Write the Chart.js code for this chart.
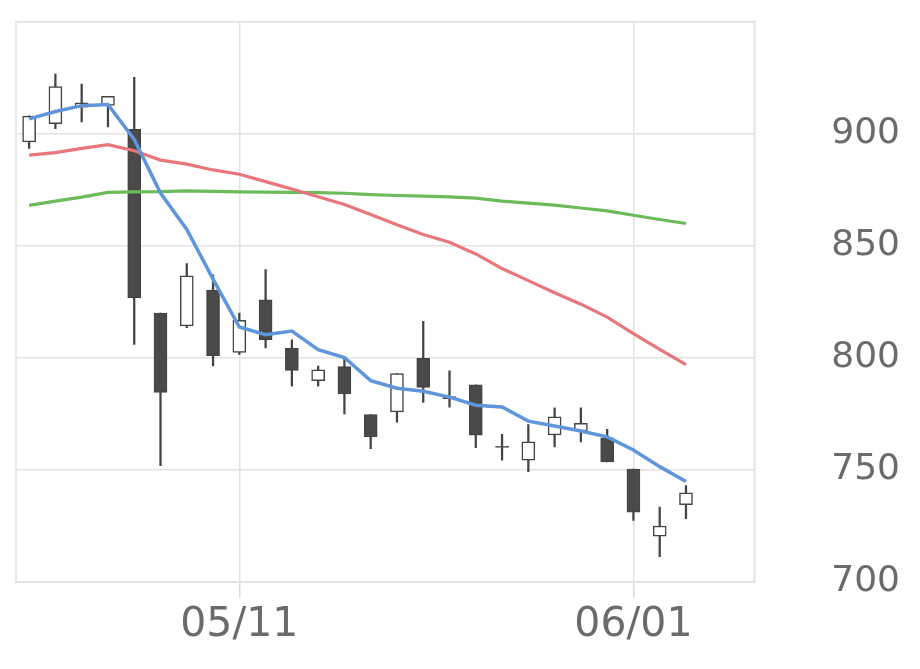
<!DOCTYPE html>
<html>
<head>
<meta charset="utf-8">
<script src="https://cdn.jsdelivr.net/npm/chart.js@4.4.0/dist/chart.umd.min.js"></script>
<style>
  html, body { margin: 0; padding: 0; background: #ffffff; }
  #wrap { width: 920px; height: 669px; }
</style>
</head>
<body>
<div id="wrap"><canvas id="chart"></canvas></div>
<script>
// Trading days (category positions)
const dates = ['04/23', '04/24', '04/27', '04/28', '04/30', '05/01', '05/07', '05/08', '05/11', '05/12',
               '05/13', '05/14', '05/15', '05/18', '05/19', '05/20', '05/21', '05/22', '05/25', '05/26',
               '05/27', '05/28', '05/29', '06/01', '06/02', '06/03'];
const xTickLabels = ['05/11', '06/01'];
const yTicks = [700, 750, 800, 850, 900];

// OHLC
const open  = [896.3, 904.4, 911.8, 912.6, 901.9, 819.9, 814.2, 830.2, 802.4, 825.8,
               804.3, 789.8, 796.0, 774.6, 775.8, 799.7, 782.7, 787.9, 760.5, 754.3,
               765.5, 767.3, 764.3, 750.3, 720.4, 734.4];
const high  = [908.0, 926.6, 922.1, 916.7, 925.1, 819.9, 842.0, 837.0, 819.9, 839.3,
               808.0, 796.3, 799.3, 774.6, 792.9, 816.2, 794.1, 787.9, 765.8, 770.2,
               777.6, 777.6, 768.0, 750.3, 733.3, 742.9];
const low   = [893.4, 902.2, 905.2, 903.0, 805.9, 751.8, 813.4, 796.3, 801.5, 804.4,
               787.3, 787.3, 774.9, 759.4, 771.2, 780.0, 777.9, 759.9, 754.3, 749.2,
               760.2, 762.4, 753.5, 727.4, 711.2, 728.2];
const close = [907.8, 921.0, 913.7, 916.7, 826.7, 784.5, 836.6, 800.9, 816.7, 808.1,
               794.3, 794.6, 783.8, 764.6, 792.9, 786.7, 781.7, 765.4, 760.0, 762.5,
               773.6, 770.7, 753.5, 731.1, 724.9, 739.7];

// Moving averages
const maShort = [906.6, 909.9, 912.5, 913.0, 897.4, 873.5, 857.2, 835.1, 813.7, 810.3,
                 811.9, 803.6, 800.1, 789.8, 786.4, 785.0, 782.4, 778.8, 778.0, 771.7,
                 769.5, 767.3, 764.7, 758.8, 751.4, 744.8];
const maMid   = [890.4, 891.5, 893.4, 895.1, 892.4, 888.2, 886.4, 883.8, 881.9, 878.6,
                 875.3, 871.8, 868.4, 863.9, 859.3, 855.0, 851.5, 846.3, 839.8, 834.4,
                 829.0, 823.9, 818.1, 810.8, 803.7, 796.9];
const maLong  = [868.0, 869.9, 871.7, 873.8, 874.0, 874.1, 874.5, 874.2, 874.0, 873.9,
                 873.8, 873.7, 873.4, 872.8, 872.4, 872.1, 871.8, 871.2, 869.9, 869.0,
                 868.1, 866.8, 865.5, 863.6, 861.7, 859.9];

const candleDark = '#4a4a4a';
const isUp = close.map((c, i) => c >= open[i]);

const wickData = dates.map((d, i) => ({ x: i, y: [low[i], high[i]] }));
const bodyData = dates.map((d, i) => ({ x: i, y: [Math.min(open[i], close[i]), Math.max(open[i], close[i])] }));
const lineData = arr => arr.map((v, i) => ({ x: i, y: v }));

// Frame round the plot area
const frame = {
    id: 'frame',
    beforeDatasetsDraw(chart) {
        const a = chart.chartArea;
        const ctx = chart.ctx;
        ctx.save();
        ctx.strokeStyle = '#e2e2e2';
        ctx.lineWidth = 1.5;
        ctx.strokeRect(a.left, a.top, a.right - a.left, a.bottom - a.top);
        ctx.restore();
    }
};

new Chart(document.getElementById('chart'), {
    type: 'bar',
    data: {
        datasets: [
            {
                type: 'line', data: lineData(maShort), borderColor: '#5f95da',
                borderWidth: 3.5, pointRadius: 0, tension: 0, order: 0
            },
            {
                type: 'line', data: lineData(maMid), borderColor: '#e8767a',
                borderWidth: 3.2, pointRadius: 0, tension: 0, order: 0
            },
            {
                type: 'line', data: lineData(maLong), borderColor: '#6cbb5a',
                borderWidth: 3.2, pointRadius: 0, tension: 0, order: 0
            },
            {
                data: bodyData,
                backgroundColor: isUp.map(u => u ? '#ffffff' : candleDark),
                borderColor: '#444444',
                borderWidth: 1.5,
                borderSkipped: false,
                barThickness: 13,
                grouped: false,
                order: 1
            },
            {
                data: wickData,
                backgroundColor: '#444444',
                borderWidth: 0,
                barThickness: 1.6,
                grouped: false,
                order: 2
            }
        ]
    },
    plugins: [frame],
    options: {
        responsive: true,
        maintainAspectRatio: false,
        animation: false,
        layout: { padding: { left: 16, top: 16, right: 20, bottom: 16 } },
        plugins: {
            legend: { display: false },
            tooltip: { enabled: false }
        },
        scales: {
            x: {
                type: 'linear',
                min: -0.5,
                max: 27.6,
                offset: false,
                afterBuildTicks(axis) {
                    axis.ticks = xTickLabels.map(l => ({ value: dates.indexOf(l) }));
                },
                ticks: {
                    callback: v => dates[v],
                    font: { family: 'DejaVu Sans', size: 41 },
                    color: '#6b6b6b',
                    padding: 3,
                    maxRotation: 0,
                    autoSkip: false
                },
                grid: { offset: false, color: '#e2e2e2', lineWidth: 1.5, tickColor: '#d3dbe8', tickLength: 16 },
                border: { color: '#e2e2e2', width: 1.5 }
            },
            y: {
                position: 'right',
                min: 700,
                max: 950,
                ticks: {
                    stepSize: 50,
                    callback: v => yTicks.includes(v) ? String(v) : '',
                    font: { family: 'DejaVu Sans', size: 36 },
                    color: '#6b6b6b',
                    padding: 0
                },
                grid: { color: '#e2e2e2', lineWidth: 1.5, tickLength: 77, tickColor: 'rgba(0,0,0,0)' },
                border: { color: '#e2e2e2', width: 1.5 }
            }
        }
    }
});
</script>
</body>
</html>
